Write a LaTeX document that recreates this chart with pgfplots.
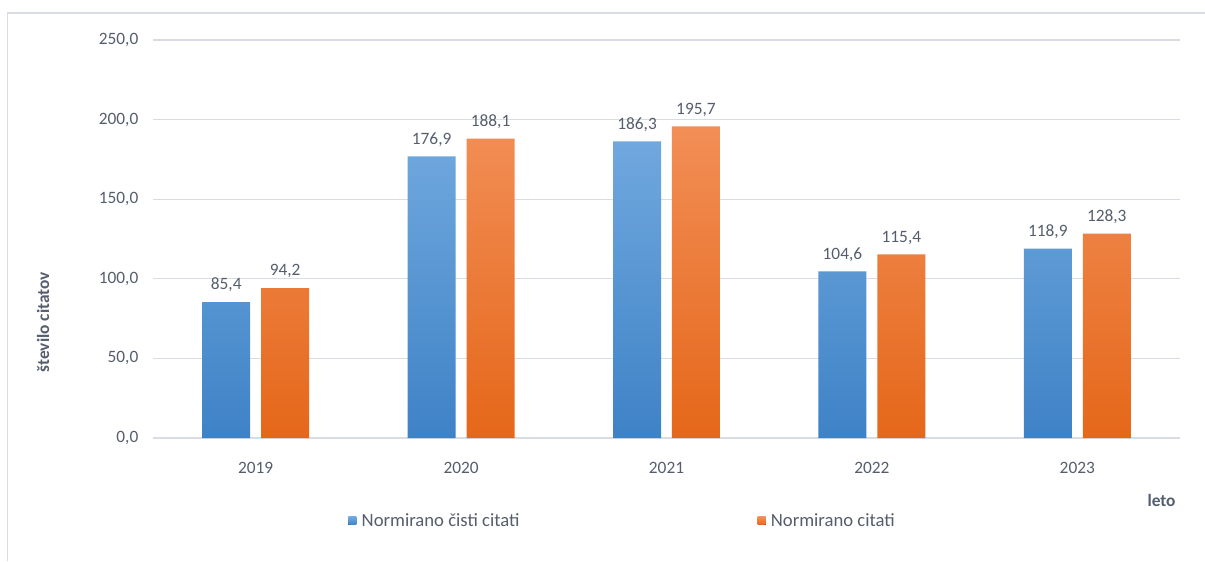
\documentclass[border=0pt]{standalone}
\usepackage{fontspec}
\setmainfont{Carlito}
\usepackage{pgfplots}
\pgfplotsset{compat=1.18}

\definecolor{textc}{RGB}{86,94,110}
\definecolor{gridc}{RGB}{217,221,227}
\definecolor{bluetop}{RGB}{112,168,222}
\definecolor{bluebot}{RGB}{62,130,198}
\definecolor{orgtop}{RGB}{242,142,86}
\definecolor{orgbot}{RGB}{229,103,26}

\begin{document}
\begin{tikzpicture}
% canvas 1205 x 561 px, 1 px = 0.75pt
\fill[white] (0,0) rectangle (903.75pt,420.75pt);
\draw[gridc, line width=1.2pt] (5.6pt,0) -- (5.6pt,411pt) -- (903.75pt,411pt);

\begin{axis}[
  at={(114.75pt,92.25pt)}, anchor=south west,
  scale only axis,
  width=770.25pt, height=298.5pt,
  font=\fontsize{13pt}{15pt}\selectfont,
  ybar,
  bar width=36pt,
  xmin=-0.5, xmax=4.5,
  ymin=0, ymax=250,
  xtick={0,...,4},
  xticklabels={2019,2020,2021,2022,2023},
  ytick={0,50,...,250},
  axis line style={draw=none},
  major tick style={draw=none},
  ymajorgrids,
  grid style={gridc, line width=0.9pt},
  /pgf/number format/.cd, fixed, fixed zerofill, precision=1, use comma, assume math mode=true,
  /pgfplots/.cd,
  ticklabel style={text=textc},
  xticklabel style={anchor=center, yshift=-18pt},
  yticklabel style={anchor=east, xshift=-7.5pt},
  nodes near coords,
  nodes near coords style={text=textc, font=\fontsize{13pt}{15pt}\selectfont, yshift=4pt},
  xlabel={\textbf{leto}},
  ylabel={\textbf{število citatov}},
  every axis x label/.style={at={(rel axis cs:0.982,0)}, yshift=-46.5pt, anchor=center, text=textc},
  every axis y label/.style={at={(rel axis cs:0,0.291)}, xshift=-82.5pt, rotate=90, anchor=center, text=textc},
  legend columns=2,
  legend cell align=left,
  legend style={at={(rel axis cs:0.19,-0.2085)}, anchor=west, draw=none, fill=none,
    inner sep=0pt, text=textc, font=\fontsize{14pt}{16pt}\selectfont,
    /tikz/every even column/.append style={column sep=176.5pt}},
  legend image code/.code={\fill[#1,draw=none] (0pt,-3pt) rectangle (6pt,3pt); \path (8pt,0);},
]
\addplot[draw=none, top color=bluetop, bottom color=bluebot, bar shift=-22.1pt]
  coordinates {(0,85.4) (1,176.9) (2,186.3) (3,104.6) (4,118.9)};
\addlegendentry{Normirano čisti citati}
\addplot[draw=none, top color=orgtop, bottom color=orgbot, bar shift=22.1pt]
  coordinates {(0,94.2) (1,188.1) (2,195.7) (3,115.4) (4,128.3)};
\addlegendentry{Normirano citati}
\end{axis}

\pgfresetboundingbox
\path (0,0) rectangle (903.75pt,420.75pt);
\end{tikzpicture}
\end{document}
